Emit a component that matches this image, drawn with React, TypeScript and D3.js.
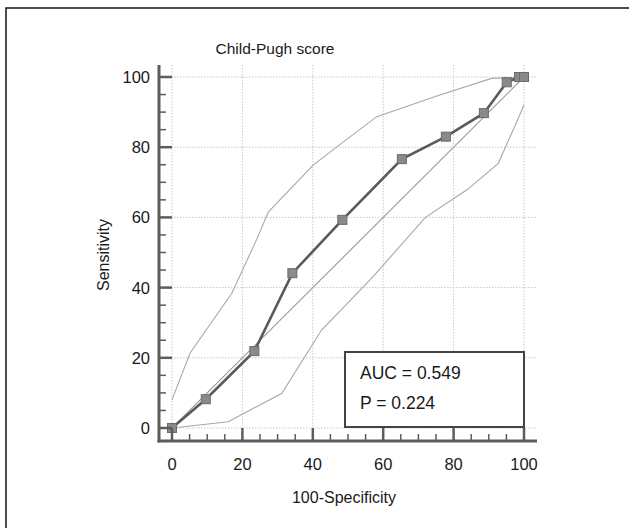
import React from "react";
import * as d3 from "d3";

const title = "Child-Pugh score";
const xLabel = "100-Specificity";
const yLabel = "Sensitivity";
const tickValues = [0, 20, 40, 60, 80, 100];
const minorTickValues = [5, 10, 15, 25, 30, 35, 45, 50, 55, 65, 70, 75, 85, 90, 95];

const rocX = [0, 9.6, 23.4, 34.2, 48.4, 65.3, 77.8, 88.6, 95.1, 98.6, 100];
const rocY = [0, 8.2, 21.9, 44.1, 59.3, 76.6, 83.0, 89.7, 98.5, 100, 100];

const upperX = [0, 5.1, 17, 24, 27.4, 40.1, 50, 58.2, 75, 90.8, 100];
const upperY = [8, 21.3, 38.4, 53.6, 61.6, 74.9, 82.5, 88.7, 94.5, 99.6, 100];

const lowerX = [0, 16, 31.2, 42.5, 57, 72, 84, 92.7, 96.5, 100];
const lowerY = [0, 1.8, 9.9, 27.9, 43, 60, 68, 75.4, 84, 92];

const diagX = [0, 100];
const diagY = [0, 100];

const statLines = ["AUC = 0.549", "P = 0.224"];

export default function App() {
  const W = 629;
  const H = 528;
  const x = d3.scaleLinear().domain([0, 100]).range([172, 524]);
  const y = d3.scaleLinear().domain([0, 100]).range([428, 77]);
  const xMin = x.invert(159);
  const xMax = x.invert(537);
  const yMin = y.invert(441);
  const yMax = y.invert(65);
  const font = "'Liberation Sans', Arial, sans-serif";

  const line = (xs: number[], ys: number[]) =>
    d3.line<number>().x((_, i) => x(xs[i])).y((_, i) => y(ys[i]))(xs) || "";

  const ax = x(xMin);
  const ay = y(yMin);

  return (
    <div style={{ position: "absolute", left: 0, top: 0 }}>
      <svg width={W} height={H} style={{ display: "block", background: "#fff" }}>
        <rect x={6} y={8} width={640} height={540} fill="none" stroke="#222" strokeWidth={1.6} />
        <text x={275} y={54} textAnchor="middle" fontFamily={font} fontSize={15.5} fill="#1a1a1a">
          {title}
        </text>

        {/* grid */}
        {tickValues.map((t) => (
          <line key={"gv" + t} x1={x(t)} x2={x(t)} y1={y(yMax)} y2={ay} stroke="#c8c8c8" strokeWidth={1} strokeDasharray="1.5,1.5" />
        ))}
        {tickValues.map((t) => (
          <line key={"gh" + t} x1={ax} x2={x(xMax)} y1={y(t)} y2={y(t)} stroke="#c8c8c8" strokeWidth={1} strokeDasharray="1.5,1.5" />
        ))}

        {/* diagonal and CI */}
        <path d={line(diagX, diagY)} fill="none" stroke="#9a9a9a" strokeWidth={1.1} />
        <path d={line(upperX, upperY)} fill="none" stroke="#a8a8a8" strokeWidth={1.1} />
        <path d={line(lowerX, lowerY)} fill="none" stroke="#a8a8a8" strokeWidth={1.1} />

        {/* ROC */}
        <path d={line(rocX, rocY)} fill="none" stroke="#5a5a5a" strokeWidth={2.6} />
        {rocX.map((v, i) => (
          <rect key={"m" + i} x={x(v) - 4.5} y={y(rocY[i]) - 4.5} width={9} height={9} fill="#8a8a8a" stroke="#6a6a6a" strokeWidth={1} />
        ))}

        {/* axes */}
        <line x1={ax} x2={ax} y1={y(yMax)} y2={ay + 1.5} stroke="#5c5c5c" strokeWidth={3} />
        <line x1={ax - 1.5} x2={x(xMax)} y1={ay} y2={ay} stroke="#5c5c5c" strokeWidth={3} />
        {tickValues.map((t) => (
          <g key={"t" + t}>
            <line x1={ax} x2={ax + 13} y1={y(t)} y2={y(t)} stroke="#5c5c5c" strokeWidth={2.5} />
            <line x1={x(t)} x2={x(t)} y1={ay} y2={ay - 13} stroke="#5c5c5c" strokeWidth={2.5} />
            <text x={150} y={y(t) + 6} textAnchor="end" fontFamily={font} fontSize={16.5} fill="#1a1a1a">
              {t}
            </text>
            <text x={x(t)} y={470} textAnchor="middle" fontFamily={font} fontSize={16.5} fill="#1a1a1a">
              {t}
            </text>
          </g>
        ))}
        {minorTickValues.map((t) => (
          <g key={"mt" + t}>
            <line x1={ax} x2={ax + 7} y1={y(t)} y2={y(t)} stroke="#5c5c5c" strokeWidth={1.5} />
            <line x1={x(t)} x2={x(t)} y1={ay} y2={ay - 7} stroke="#5c5c5c" strokeWidth={1.5} />
          </g>
        ))}

        <text x={344} y={503} textAnchor="middle" fontFamily={font} fontSize={16} fill="#1a1a1a">
          {xLabel}
        </text>
        <text transform={`translate(109,255) rotate(-90)`} textAnchor="middle" fontFamily={font} fontSize={16} fill="#1a1a1a">
          {yLabel}
        </text>

        {/* stats box */}
        <rect x={345} y={352} width={179} height={75} fill="#fff" stroke="#444" strokeWidth={2} />
        {statLines.map((s, i) => (
          <text key={s} x={360} y={379 + i * 30} fontFamily={font} fontSize={17.5} fill="#1a1a1a">
            {s}
          </text>
        ))}
      </svg>
    </div>
  );
}
